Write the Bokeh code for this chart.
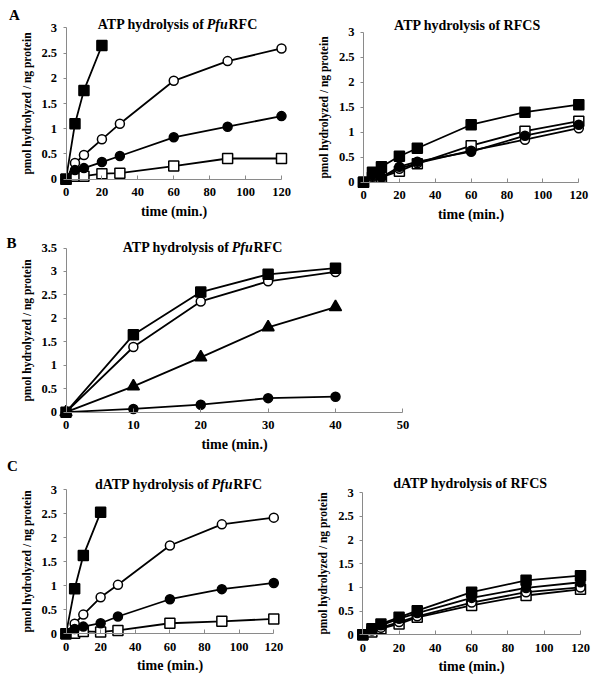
from bokeh.plotting import figure
from bokeh.layouts import column, row
from bokeh.models import Label, FixedTicker
from bokeh.embed import file_html
from bokeh.resources import INLINE

FONT = "Liberation Serif"

# ---------------- data ----------------
time_long = [0, 5, 10, 20, 30, 60, 90, 120]
time_short = [0, 5, 10, 20]
time_b = [0, 10, 20, 30, 40]

# Panel A, ATP hydrolysis of PfuRFC
a1_filled_sq = [0, 1.10, 1.76, 2.65]
a1_open_circ = [0, 0.32, 0.48, 0.79, 1.10, 1.95, 2.34, 2.59]
a1_filled_circ = [0, 0.18, 0.22, 0.34, 0.46, 0.83, 1.04, 1.25]
a1_open_sq = [0, 0.06, 0.06, 0.11, 0.12, 0.26, 0.41, 0.41]

# Panel A, ATP hydrolysis of RFCS
a2_filled_sq = [0, 0.20, 0.31, 0.52, 0.68, 1.15, 1.40, 1.55]
a2_open_sq = [0, 0.10, 0.10, 0.22, 0.37, 0.73, 1.02, 1.22]
a2_filled_circ = [0, 0.13, 0.10, 0.31, 0.41, 0.61, 0.93, 1.15]
a2_open_circ = [0, 0.11, 0.10, 0.27, 0.38, 0.63, 0.85, 1.08]

# Panel B, ATP hydrolysis of PfuRFC
b_filled_sq = [0, 1.65, 2.56, 2.94, 3.07]
b_open_circ = [0, 1.39, 2.36, 2.79, 2.99]
b_triangle = [0, 0.55, 1.17, 1.81, 2.24]
b_filled_circ = [0, 0.07, 0.16, 0.30, 0.33]

# Panel C, dATP hydrolysis of PfuRFC
c1_filled_sq = [0, 0.94, 1.63, 2.53]
c1_open_circ = [0, 0.21, 0.40, 0.76, 1.02, 1.84, 2.28, 2.42]
c1_filled_circ = [0, 0.10, 0.15, 0.22, 0.36, 0.72, 0.93, 1.06]
c1_open_sq = [0, 0.01, 0.05, 0.04, 0.07, 0.22, 0.26, 0.31]

# Panel C, dATP hydrolysis of RFCS
c2_filled_sq = [0, 0.13, 0.23, 0.37, 0.51, 0.90, 1.15, 1.25]
c2_open_sq = [0, 0.06, 0.13, 0.23, 0.37, 0.62, 0.83, 0.96]
c2_open_circ = [0, 0.09, 0.15, 0.27, 0.39, 0.68, 0.90, 1.00]
c2_filled_circ = [0, 0.11, 0.20, 0.34, 0.46, 0.78, 0.99, 1.11]

x_ticks_120 = [0, 20, 40, 60, 80, 100, 120]
x_labels_120 = ["0", "20", "40", "60", "80", "100", "120"]
x_ticks_50 = [0, 10, 20, 30, 40, 50]
x_labels_50 = ["0", "10", "20", "30", "40", "50"]
y_ticks_3 = [0, 0.5, 1, 1.5, 2, 2.5, 3]
y_labels_3 = ["0", "0.5", "1", "1.5", "2", "2.5", "3"]
y_ticks_35 = [0, 0.5, 1, 1.5, 2, 2.5, 3, 3.5]
y_labels_35 = ["0", "0.5", "1", "1.5", "2", "2.5", "3", "3.5"]

X_TITLE = "time (min.)"
Y_TITLE = "pmol hydrolyzed / ng protein"


def make_fig(fw, fh, ox, oy, x_cal, y_cal, x_end, y_end, xt, xl, yt, yl):
    # the plot frame covers the whole canvas; axes sit at data 0
    (xa, pxa), (xb, pxb) = x_cal
    kx = (pxb - pxa) / (xb - xa)
    (ya, pya), (yb, pyb) = y_cal
    ky = (pya - pyb) / (yb - ya)

    def dx(px):
        return xa + (px - pxa) / kx

    def dy(py):
        return ya + (pya - py) / ky

    p = figure(width=fw, height=fh,
               x_range=(dx(ox), dx(ox + fw)),
               y_range=(dy(oy + fh), dy(oy)),
               output_backend="svg", toolbar_location=None,
               min_border=0, min_border_left=0, min_border_right=0,
               min_border_top=0, min_border_bottom=0)
    p.title.visible = False
    p.outline_line_color = None
    p.xgrid.visible = False
    p.ygrid.visible = False
    p.background_fill_color = "white"
    p.border_fill_color = "white"

    for ax in (p.xaxis[0], p.yaxis[0]):
        ax.fixed_location = 0
        ax.axis_line_color = "#8a8a8a"
        ax.axis_line_width = 1
        ax.major_tick_line_color = "#8a8a8a"
        ax.minor_tick_line_color = None
        ax.major_label_text_font = FONT
        ax.major_label_text_font_style = "bold"
        ax.major_label_text_font_size = "12.5px"
        ax.major_label_text_color = "black"
        ax.axis_label_text_font = FONT
        ax.axis_label_text_font_style = "bold"
        ax.axis_label_text_color = "black"

    xa_ = p.xaxis[0]
    xa_.bounds = (0, x_end)
    xa_.ticker = FixedTicker(ticks=xt)
    xa_.major_label_overrides = {t: s for t, s in zip(xt, xl)}
    xa_.major_tick_in = 4
    xa_.major_tick_out = 0
    xa_.major_label_standoff = 9
    xa_.axis_label = X_TITLE
    xa_.axis_label_text_font_size = "14px"
    xa_.axis_label_standoff = 4

    ya_ = p.yaxis[0]
    ya_.bounds = (0, y_end)
    ya_.ticker = FixedTicker(ticks=yt)
    ya_.major_label_overrides = {t: s for t, s in zip(yt, yl)}
    ya_.major_tick_in = 0
    ya_.major_tick_out = 3
    ya_.major_label_standoff = 6
    ya_.axis_label = Y_TITLE
    ya_.axis_label_text_font_size = "11.5px"
    ya_.axis_label_standoff = 6

    return p, dx, dy


def series(p, x, y, marker, filled, size=10):
    p.line(x, y, line_color="black", line_width=1.8)
    p.scatter(x, y, marker=marker, size=size,
              fill_color="black" if filled else "white",
              line_color="black", line_width=1.5)


def text(p, dx, dy, px, py, s, size="14px", style="bold", align="left"):
    p.add_layout(Label(x=dx(px), y=dy(py), text=s, text_font=FONT,
                       text_font_style=style, text_font_size=size,
                       text_color="black", text_align=align,
                       text_baseline="middle"))


def title_pfu(p, dx, dy, cx, cy, lead, lead_em):
    fs = 14.0
    w_lead = lead_em * fs
    w_pfu = 1.556 * fs
    w_rfc = 2.055 * fs
    start = cx - (w_lead + w_pfu + w_rfc) / 2
    text(p, dx, dy, start, cy, lead)
    text(p, dx, dy, start + w_lead, cy, "Pfu", style="bold italic")
    text(p, dx, dy, start + w_lead + w_pfu, cy, "RFC")


# ---------------- Row A ----------------
pa1, dxa1, dya1 = make_fig(300, 222, 0, 0, ((0, 65.5), (120, 281)), ((0, 178.7), (3, 27.3)),
                           120, 3, x_ticks_120, x_labels_120, y_ticks_3, y_labels_3)
series(pa1, time_long, a1_open_sq, "square", False)
series(pa1, time_long, a1_open_circ, "circle", False, 9)
series(pa1, time_long, a1_filled_circ, "circle", True, 9)
series(pa1, time_short, a1_filled_sq, "square", True)
title_pfu(pa1, dxa1, dya1, 177, 23.5, "ATP hydrolysis of", 7.78)
text(pa1, dxa1, dya1, 14, 14, "A", size="15px", align="center")

pa2, dxa2, dya2 = make_fig(295, 222, 300, 0, ((0, 363), (120, 578.3)), ((0, 181.7), (3, 31.7)),
                           120, 3, x_ticks_120, x_labels_120, y_ticks_3, y_labels_3)
series(pa2, time_long, a2_open_sq, "square", False)
series(pa2, time_long, a2_open_circ, "circle", False, 9)
series(pa2, time_long, a2_filled_circ, "circle", True, 9)
series(pa2, time_long, a2_filled_sq, "square", True)
text(pa2, dxa2, dya2, 467, 25, "ATP hydrolysis of RFCS", align="center")

# ---------------- Row B ----------------
pb, dxb, dyb = make_fig(595, 230, 0, 222, ((0, 65.5), (40, 335)), ((0, 411.7), (3.5, 247.5)),
                        50, 3.5, x_ticks_50, x_labels_50, y_ticks_35, y_labels_35)
series(pb, time_b, b_filled_circ, "circle", True, 9)
series(pb, time_b, b_triangle, "triangle", True, 12)
series(pb, time_b, b_open_circ, "circle", False, 9)
series(pb, time_b, b_filled_sq, "square", True)
title_pfu(pb, dxb, dyb, 202, 246.5, "ATP hydrolysis of", 7.78)
text(pb, dxb, dyb, 11, 242, "B", size="15px", align="center")

# ---------------- Row C ----------------
pc1, dxc1, dyc1 = make_fig(300, 223, 0, 452, ((0, 65.5), (120, 273.3)), ((0, 633.3), (3, 489.3)),
                           120, 3, x_ticks_120, x_labels_120, y_ticks_3, y_labels_3)
series(pc1, time_long, c1_open_sq, "square", False)
series(pc1, time_long, c1_open_circ, "circle", False, 9)
series(pc1, time_long, c1_filled_circ, "circle", True, 9)
series(pc1, time_short, c1_filled_sq, "square", True)
title_pfu(pc1, dxc1, dyc1, 178, 484, "dATP hydrolysis of", 8.33)
text(pc1, dxc1, dyc1, 12, 465, "C", size="15px", align="center")

pc2, dxc2, dyc2 = make_fig(295, 223, 300, 452, ((0, 362.3), (120, 580)), ((0, 634.3), (3, 492.3)),
                           120, 3, x_ticks_120, x_labels_120, y_ticks_3, y_labels_3)
series(pc2, time_long, c2_open_sq, "square", False)
series(pc2, time_long, c2_open_circ, "circle", False, 9)
series(pc2, time_long, c2_filled_sq, "square", True)
series(pc2, time_long, c2_filled_circ, "circle", True, 9)
text(pc2, dxc2, dyc2, 470, 483, "dATP hydrolysis of RFCS", align="center")

layout = column(row(pa1, pa2), pb, row(pc1, pc2))
open("out.html", "w").write(file_html(layout, INLINE, title="ATP hydrolysis"))
